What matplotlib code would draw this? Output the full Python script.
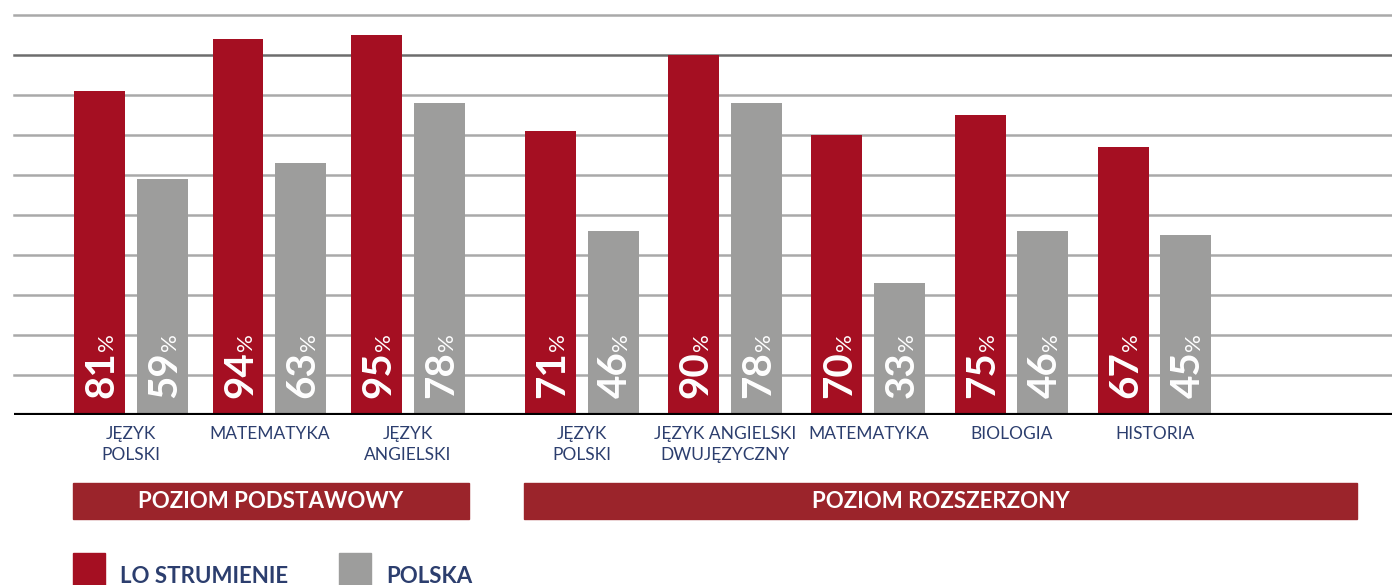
import numpy as np
import matplotlib.pyplot as plt
from matplotlib.patches import Rectangle
import matplotlib.transforms as mtransforms

plt.rcParams['font.family'] = ['Lato', 'DejaVu Sans']

subjects = ['JĘZYK\nPOLSKI', 'MATEMATYKA', 'JĘZYK\nANGIELSKI',
            'JĘZYK\nPOLSKI', 'JĘZYK ANGIELSKI\nDWUJĘZYCZNY', 'MATEMATYKA',
            'BIOLOGIA', 'HISTORIA']
lo_strumienie = [81, 94, 95, 71, 90, 70, 75, 67]
polska = [59, 63, 78, 46, 78, 33, 46, 45]
levels = ['POZIOM PODSTAWOWY', 'POZIOM ROZSZERZONY']
level_of = [0, 0, 0, 1, 1, 1, 1, 1]
series_names = ['LO STRUMIENIE', 'POLSKA']

red = '#a50f22'
grey = '#9d9d9c'
band = '#9b242b'
navy = '#2c3e6e'

fig = plt.figure(figsize=(13.92, 5.85), dpi=100)
ax = fig.add_axes([14 / 1392, 170 / 585, 1378 / 1392, 400 / 585])

# bar slots: each level has its own start and step
level_of = np.array(level_of)
start = np.array([0.0, 3.187])
step = np.array([0.979, 1.012])
j = np.array([np.sum(level_of[:i] == level_of[i]) for i in range(len(level_of))])
x = start[level_of] + step[level_of] * j
w = 0.36
off = 0.443

ax.bar(x, lo_strumienie, width=w, color=red, zorder=3)
ax.bar(x + off, polska, width=w, color=grey, zorder=3)

ax.set_xlim(-0.604, 9.134)
ax.set_ylim(0, 100)
for g in range(10, 101, 10):
    c = '#6d6d6d' if g == 90 else '#a9a9a9'
    ax.axhline(g, color=c, lw=1.8, zorder=1, clip_on=False)
ax.axhline(0, color='black', lw=3, zorder=4)
for s in ax.spines.values():
    s.set_visible(False)
ax.set_yticks([])
ax.set_xticks(x + off / 2)
ax.set_xticklabels(subjects, color=navy, fontsize=12.5, linespacing=1.4)
ax.tick_params(axis='x', length=0, pad=8)

fig.canvas.draw()
renderer = fig.canvas.get_renderer()
for vals, xs in [(lo_strumienie, x), (polska, x + off)]:
    for xi, v in zip(xs, vals):
        t = ax.annotate(str(v), xy=(xi, 0), xytext=(10, 12), textcoords='offset points',
                        rotation=90, rotation_mode='anchor', ha='left', va='baseline',
                        fontsize=29, fontweight='bold', color='white', zorder=5)
        h = t.get_window_extent(renderer).height * 72 / fig.dpi
        ax.annotate('%', xy=(xi, 0), xytext=(10, 12 + h + 0.5), textcoords='offset points',
                    rotation=90, rotation_mode='anchor', ha='left', va='baseline',
                    fontsize=16, color='white', zorder=5)

trans = mtransforms.blended_transform_factory(ax.transData, ax.transAxes)
for k, name in enumerate(levels):
    idx = np.where(level_of == k)[0]
    left = x[idx[0]] - w / 2 - 0.005
    right = x[idx[-1]] + off + w / 2 + 0.03 if k == 0 else 8.887
    ax.add_patch(Rectangle((left, -0.26), right - left, 0.09, transform=trans,
                           color=band, clip_on=False))
    ax.text((left + right) / 2, -0.215, name, transform=trans, ha='center', va='center',
            color='white', fontsize=16, fontweight='bold')

for k, (name, col) in enumerate(zip(series_names, [red, grey])):
    x0 = [73, 339][k] / 1392
    fig.add_artist(Rectangle((x0, 0), 32 / 1392, 32 / 585, color=col,
                             transform=fig.transFigure))
    fig.text(x0 + 47 / 1392, 2 / 585, name, ha='left', va='baseline',
             color=navy, fontsize=16, fontweight='bold')

fig.savefig('out.png', dpi=100)
